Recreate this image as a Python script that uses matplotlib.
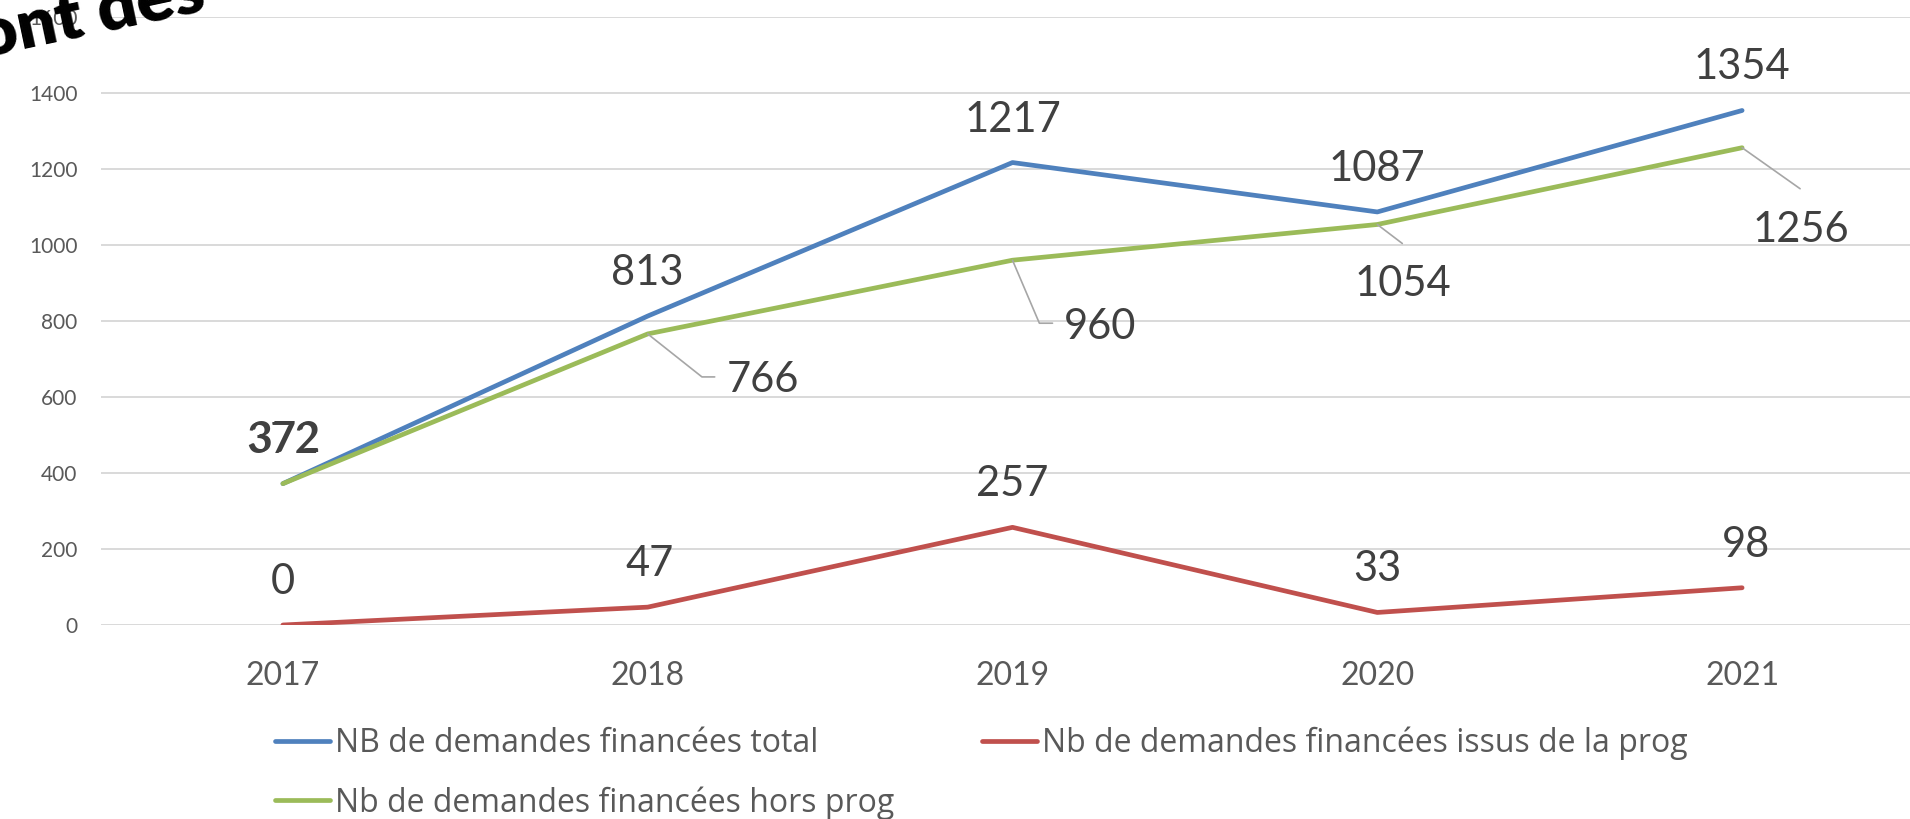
import matplotlib.pyplot as plt

plt.rcParams['font.family'] = ['Lato', 'DejaVu Sans']

# données
years = ['2017', '2018', '2019', '2020', '2021']
total = [372, 813, 1217, 1087, 1354]
issus_prog = [0, 47, 257, 33, 98]
hors_prog = [372, 766, 960, 1054, 1256]

# positions des étiquettes (décalage en pixels de la ligne de base)
off_total = [(0, 31)] * 5
off_issus = [(0, 31), (2, 31), (0, 31), (0, 31), (4, 31)]
off_hors = [(2, 32), (115, -58), (88, -79), (26, -72), (59, -94)]

BLUE, RED, GREEN = '#4F81BD', '#C0504D', '#9BBB59'
LABEL = '#404040'
GREY = '#595959'

fig = plt.figure(figsize=(19.1, 8.19), dpi=100)
ax = fig.add_axes([100.5 / 1910, 194 / 819, 1824 / 1910, 608 / 819])

x = range(len(years))
kw = dict(lw=3.4, solid_capstyle='round', solid_joinstyle='round')
l1, = ax.plot(x, total, color=BLUE, label='NB de demandes financées total', **kw)
l2, = ax.plot(x, issus_prog, color=RED, label='Nb de demandes financées issus de la prog', **kw)
l3, = ax.plot(x, hors_prog, color=GREEN, label='Nb de demandes financées hors prog', **kw)

ax.set_xlim(-0.5, len(years) - 0.5)
ax.set_ylim(0, 1600)
ax.set_yticks(range(0, 1601, 200))
ax.set_xticks(list(x))
ax.set_xticklabels(years)
ax.yaxis.grid(True, color='#D9D9D9', lw=1.4)
ax.set_axisbelow(True)
for s in ax.spines.values():
    s.set_visible(False)
ax.tick_params(axis='y', length=0, pad=16.5, labelsize=15, labelcolor=GREY)
ax.tick_params(axis='x', length=0, pad=26, labelsize=23, labelcolor=GREY)

# étiquettes de données
for vals, offs in [(total, off_total), (issus_prog, off_issus), (hors_prog, off_hors)]:
    for i, v in enumerate(vals):
        ax.annotate(str(v), (i, v), xytext=offs[i], textcoords='offset pixels',
                    ha='center', va='baseline', fontsize=30, color=LABEL)

# lignes de repère (hors prog)
lead = dict(arrowstyle='-', color='#A6A6A6', lw=1.2, shrinkA=0, shrinkB=0)
ax.annotate('', (1, hors_prog[1]), xytext=(67, -43), textcoords='offset pixels',
            arrowprops=dict(connectionstyle='angle,angleA=0,angleB=-38.4,rad=0', **lead))
ax.annotate('', (2, hors_prog[2]), xytext=(40, -63), textcoords='offset pixels',
            arrowprops=dict(connectionstyle='angle,angleA=0,angleB=-66.9,rad=0', **lead))
ax.annotate('', (3, hors_prog[3]), xytext=(25, -19), textcoords='offset pixels',
            arrowprops=lead)
ax.annotate('', (4, hors_prog[4]), xytext=(58, -41), textcoords='offset pixels',
            arrowprops=lead)

fig.legend([l1, l3, l2], [l1.get_label(), l3.get_label(), l2.get_label()],
           loc='upper left', bbox_to_anchor=(275 / 1910, 1 - 727 / 819),
           ncol=2, frameon=False, borderpad=0, borderaxespad=0,
           prop={'family': ['Open Sans', 'DejaVu Sans'], 'size': 23},
           labelcolor=GREY, handlelength=1.72, handletextpad=0.15,
           columnspacing=2.75, labelspacing=0.8)

# morceau du titre de la diapositive
fig.text(-18 / 1910, 1 - 58 / 819, 'ont des', rotation=12, rotation_mode='anchor',
         fontsize=50, fontweight='heavy', color='black', ha='left', va='baseline',
         zorder=10)

fig.savefig('out.png', dpi=100)
